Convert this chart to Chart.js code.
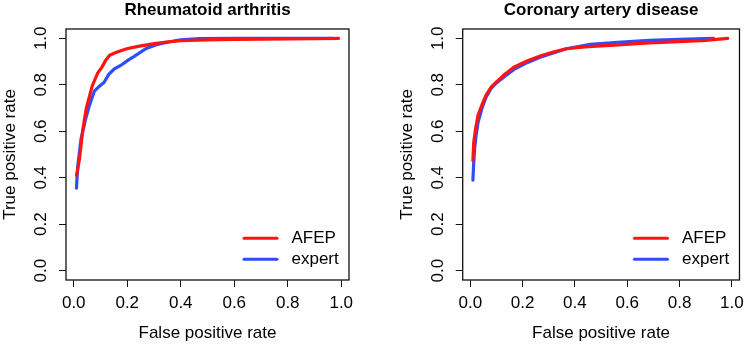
<!DOCTYPE html>
<html>
<head>
<meta charset="utf-8">
<script src="https://cdn.jsdelivr.net/npm/chart.js@4.4.1/dist/chart.umd.min.js"></script>
<style>
  body { margin: 0; background: #fff; }
  #wrap { position: relative; width: 750px; height: 344px; }
  canvas { position: absolute; top: 0; }
</style>
</head>
<body>
<div id="wrap">
  <canvas id="raChart" width="375" height="344" style="left:0"></canvas>
  <canvas id="cadChart" width="375" height="344" style="left:375px"></canvas>
</div>
<script>
    // Rheumatoid arthritis ROC curves
    const raAfepFpr = [0.01, 0.014, 0.021, 0.034, 0.047, 0.069, 0.09, 0.105, 0.119, 0.134, 0.155, 0.184, 0.202, 0.246, 0.296, 0.346, 0.40, 0.5, 0.6, 0.7, 0.8, 0.9, 0.99];
    const raAfepTpr = [0.41, 0.43, 0.478, 0.608, 0.70, 0.795, 0.852, 0.875, 0.905, 0.927, 0.938, 0.950, 0.956, 0.966, 0.976, 0.984, 0.990, 0.993, 0.995, 0.996, 0.997, 0.998, 1.0];
    const raExpertFpr = [0.01, 0.015, 0.027, 0.044, 0.057, 0.077, 0.096, 0.113, 0.131, 0.152, 0.177, 0.202, 0.226, 0.271, 0.309, 0.346, 0.40, 0.47, 0.6, 0.8, 0.97];
    const raExpertTpr = [0.355, 0.45, 0.565, 0.651, 0.705, 0.773, 0.794, 0.81, 0.845, 0.869, 0.884, 0.905, 0.922, 0.956, 0.972, 0.982, 0.993, 0.999, 1.0, 1.0, 1.0];

    // Coronary artery disease ROC curves
    const cadAfepFpr = [0.01, 0.013, 0.02, 0.03, 0.045, 0.06, 0.08, 0.1, 0.13, 0.167, 0.217, 0.267, 0.317, 0.367, 0.45, 0.55, 0.684, 0.8, 0.9, 0.984];
    const cadAfepTpr = [0.474, 0.55, 0.61, 0.67, 0.715, 0.755, 0.79, 0.812, 0.843, 0.876, 0.902, 0.924, 0.941, 0.955, 0.964, 0.971, 0.980, 0.986, 0.991, 1.0];
    const cadExpertFpr = [0.01, 0.013, 0.017, 0.022, 0.03, 0.045, 0.06, 0.08, 0.1, 0.13, 0.167, 0.217, 0.267, 0.317, 0.367, 0.459, 0.55, 0.684, 0.8, 0.93];
    const cadExpertTpr = [0.39, 0.46, 0.53, 0.58, 0.64, 0.70, 0.745, 0.785, 0.808, 0.835, 0.866, 0.895, 0.918, 0.937, 0.955, 0.974, 0.982, 0.991, 0.996, 1.0];

    const xTicks = [0, 0.2, 0.4, 0.6, 0.8, 1.0];
    const yTicks = [0, 0.2, 0.4, 0.6, 0.8, 1.0];
    const seriesNames = ['AFEP', 'expert'];
    const seriesColors = ['#ff1414', '#2e4dff'];

    const fontFamily = '"Liberation Sans", Arial, Helvetica, sans-serif';
    Chart.defaults.font.family = fontFamily;
    Chart.defaults.color = '#000';

    function toPoints(xs, ys) {
        return xs.map((x, i) => ({ x: x, y: ys[i] }));
    }

    // Frame round the plot region, like R's box()
    const boxPlugin = {
        id: 'box',
        afterDraw(chart) {
            const { ctx, chartArea } = chart;
            ctx.save();
            ctx.strokeStyle = '#111';
            ctx.lineWidth = 1.3;
            ctx.strokeRect(chartArea.left, chartArea.top, chartArea.right - chartArea.left, chartArea.bottom - chartArea.top);
            ctx.restore();
        }
    };

    // Legend inside the bottom right corner of the plot
    const innerLegend = {
        id: 'innerLegend',
        afterDatasetsDraw(chart) {
            const { ctx, chartArea } = chart;
            ctx.save();
            chart.data.datasets.forEach((ds, i) => {
                const y = chartArea.bottom - 41.7 + i * 21;
                ctx.strokeStyle = ds.borderColor;
                ctx.lineWidth = 3;
                ctx.lineCap = 'round';
                ctx.beginPath();
                ctx.moveTo(chartArea.right - 105, y);
                ctx.lineTo(chartArea.right - 72, y);
                ctx.stroke();
                ctx.fillStyle = '#000';
                ctx.font = '17px ' + fontFamily;
                ctx.textBaseline = 'middle';
                ctx.textAlign = 'left';
                ctx.fillText(ds.label, chartArea.right - 57.5, y);
            });
            ctx.restore();
        }
    };

    function makeChart(id, title, series, padLeft, padRight) {
        const ctx = document.getElementById(id).getContext('2d');
        return new Chart(ctx, {
            type: 'scatter',
            data: {
                datasets: series.map((pts, i) => ({
                    label: seriesNames[i],
                    data: pts,
                    showLine: true,
                    borderColor: seriesColors[i],
                    backgroundColor: seriesColors[i],
                    borderWidth: 3.2,
                    borderCapStyle: 'round',
                    pointRadius: 0,
                    tension: 0,
                })),
            },
            options: {
                responsive: false,
                animation: false,
                layout: { padding: { left: padLeft, right: padRight, top: 0, bottom: 0 } },
                plugins: {
                    legend: { display: false },
                    tooltip: { enabled: false },
                    title: {
                        display: true,
                        text: title,
                        fullSize: false,
                        color: '#000',
                        font: { size: 17, weight: 'bold', lineHeight: 1 },
                        padding: { top: 2, bottom: 10 },
                    },
                },
                scales: {
                    x: {
                        type: 'linear',
                        min: -0.029,
                        max: 1.029,
                        afterBuildTicks: s => { s.ticks = xTicks.map(v => ({ value: v })); },
                        afterFit: s => { s.height = 64; },
                        border: { display: false },
                        grid: { drawOnChartArea: false, drawTicks: true, tickLength: 7, color: '#111' },
                        ticks: {
                            padding: 6,
                            font: { size: 17 },
                            maxRotation: 0,
                            callback: v => v.toFixed(1),
                        },
                        title: {
                            display: true,
                            text: 'False positive rate',
                            font: { size: 17 },
                            padding: { top: 0, bottom: 0 },
                        },
                    },
                    y: {
                        type: 'linear',
                        min: -0.04,
                        max: 1.04,
                        afterBuildTicks: s => { s.ticks = yTicks.map(v => ({ value: v })); },
                        afterFit: s => { s.width = 66; },
                        border: { display: false },
                        grid: { drawOnChartArea: false, drawTicks: true, tickLength: 7, color: '#111' },
                        ticks: {
                            padding: 5.5,
                            font: { size: 17 },
                            minRotation: 90,
                            maxRotation: 90,
                            crossAlign: 'center',
                            callback: v => v.toFixed(1),
                        },
                        title: {
                            display: true,
                            text: 'True positive rate',
                            font: { size: 17 },
                            padding: { top: 0, bottom: 0 },
                        },
                    },
                },
            },
            plugins: [boxPlugin, innerLegend],
        });
    }

    makeChart('raChart', 'Rheumatoid arthritis',
        [toPoints(raAfepFpr, raAfepTpr), toPoints(raExpertFpr, raExpertTpr)], 0, 26);
    makeChart('cadChart', 'Coronary artery disease',
        [toPoints(cadAfepFpr, cadAfepTpr), toPoints(cadExpertFpr, cadExpertTpr)], 21.7, 4.3);
</script>
</body>
</html>
